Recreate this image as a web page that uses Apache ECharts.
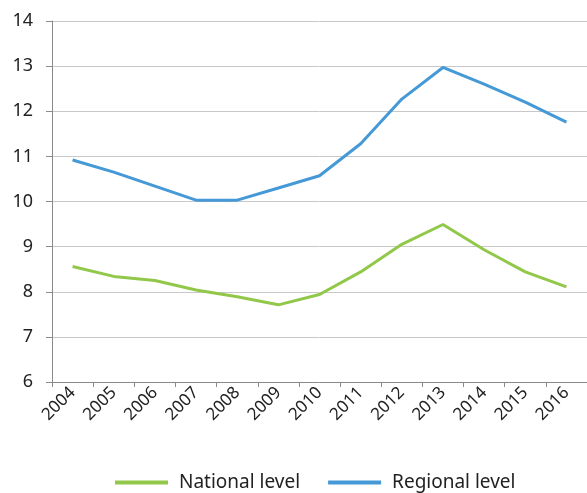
<!DOCTYPE html>
<html><head><meta charset="utf-8">
<script src="https://cdn.jsdelivr.net/npm/echarts@6/dist/echarts.min.js"></script>
<style>html,body{margin:0;padding:0;background:#fff}#c{width:587px;height:493px}</style>
</head><body><div id="c"></div>
<script>
const years = ['2004','2005','2006','2007','2008','2009','2010','2011','2012','2013','2014','2015','2016'];
const nationalLevel = [8.56, 8.34, 8.25, 8.04, 7.89, 7.71, 7.94, 8.44, 9.05, 9.49, 8.93, 8.44, 8.11];
const regionalLevel = [10.92, 10.65, 10.34, 10.03, 10.03, 10.30, 10.57, 11.28, 12.27, 12.97, 12.60, 12.20, 11.76];
const yTicks = {min: 6, max: 14, interval: 1};
const FONT = 'Noto Sans';
const chart = echarts.init(document.getElementById('c'));
chart.setOption({
  animation: false,
  textStyle: {fontFamily: FONT},
  grid: {left: 52, right: -6, top: 21, bottom: 111, containLabel: false},
  legend: {
    bottom: -4, left: 110, itemWidth: 53, itemHeight: 4, itemGap: 28,
    icon: 'rect',
    textStyle: {fontSize: 19, color: '#222', fontFamily: FONT, padding: [0,0,0,6]},
    data: ['National level', 'Regional level']
  },
  xAxis: {
    type: 'category', data: years, boundaryGap: true,
    axisLine: {lineStyle: {color: '#8a8a8a', width: 1}},
    axisTick: {show: true, length: 5, alignWithLabel: false, lineStyle: {color: '#8a8a8a'}},
    axisLabel: {rotate: 45, fontSize: 17, color: '#222', margin: 8, interval: 0}
  },
  yAxis: {
    type: 'value', min: yTicks.min, max: yTicks.max, interval: yTicks.interval,
    axisLine: {show: true, lineStyle: {color: '#8a8a8a', width: 1}},
    axisTick: {show: true, length: 6, lineStyle: {color: '#8a8a8a'}},
    axisLabel: {fontSize: 18, color: '#222', margin: 19},
    splitLine: {lineStyle: {color: '#c8c8c8', width: 1}}
  },
  series: [
    {name: 'National level', type: 'line', data: nationalLevel, showSymbol: false, symbol: 'none',
     lineStyle: {color: '#92c84a', width: 3}, itemStyle: {color: '#92c84a'}},
    {name: 'Regional level', type: 'line', data: regionalLevel, showSymbol: false, symbol: 'none',
     lineStyle: {color: '#4499d6', width: 3}, itemStyle: {color: '#4499d6'}}
  ]
});
</script></body></html>
